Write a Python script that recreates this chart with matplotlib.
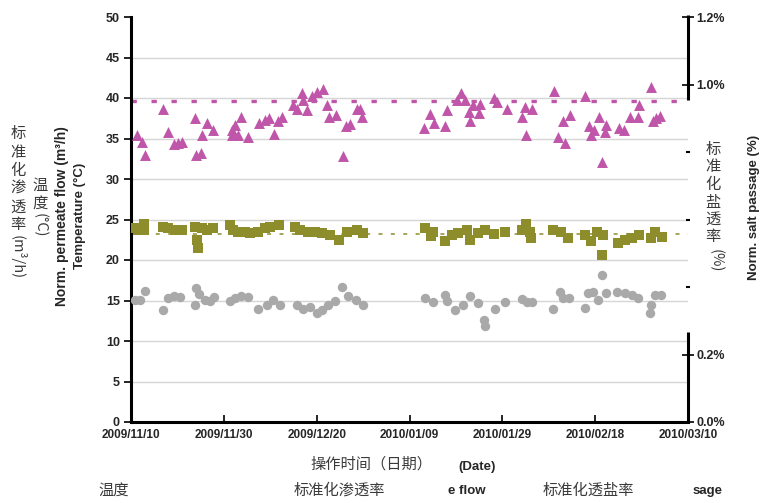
import matplotlib
matplotlib.use("Agg")
import matplotlib.pyplot as plt
from matplotlib.lines import Line2D

# ---------------- data (days since 2009/11/10) ----------------
flow_days = [1.2, 2.4, 3.0, 7.0, 7.9, 9.3, 10.1, 10.9, 13.8, 14.1, 15.1, 15.2, 16.3, 17.7,
             21.7, 22.3, 21.7, 23.1, 23.8, 25.3, 27.6, 28.9, 29.8, 30.9, 31.7, 32.5,
             35.0, 35.8, 36.8, 37.1, 38.0, 38.9, 40.0, 41.3, 42.3, 42.7, 44.2, 45.6,
             46.3, 47.2, 48.6, 49.7, 49.3,
             63.1, 64.4, 65.3, 67.6, 68.0, 70.2, 71.2, 72.0, 73.0, 72.9, 73.7, 75.0, 75.2,
             78.2, 78.9, 80.9, 84.2, 84.9, 85.1, 86.3,
             91.2, 91.9, 93.1, 93.6, 94.6, 97.9, 98.7, 99.2, 99.8, 100.8, 101.5, 102.3,
             102.1, 105.1, 106.3, 107.5, 109.2, 109.4, 112.0, 112.5, 114.0, 113.2]
flow_vals = [35.4, 34.6, 33.0, 38.6, 35.8, 34.3, 34.4, 34.6, 37.5, 33.0, 33.2, 35.4, 36.9, 36.0,
             36.0, 36.7, 35.4, 35.4, 37.6, 35.2, 36.9, 37.3, 37.5, 35.5, 37.1, 37.6,
             39.1, 38.7, 40.6, 39.8, 38.5, 40.2, 40.8, 41.1, 39.1, 37.7, 37.9, 32.9,
             36.6, 36.8, 38.7, 37.7, 38.7,
             36.3, 38.0, 36.9, 36.6, 38.5, 39.8, 40.6, 39.8, 37.1, 38.3, 39.1, 38.1, 39.2,
             40.0, 39.5, 38.7, 37.7, 38.9, 35.4, 38.7,
             40.9, 35.2, 37.1, 34.4, 37.9, 40.2, 36.5, 35.4, 36.0, 37.7, 32.1, 36.7,
             35.8, 36.3, 36.0, 37.7, 37.7, 39.1, 41.3, 37.1, 37.8, 37.5]

temp_days = [1.0, 2.7, 2.7, 1.5, 7.0, 8.0, 9.5, 10.9, 13.8, 14.3, 14.5, 15.2, 16.3, 17.7,
             21.3, 22.0, 23.1, 24.5, 25.6, 27.4, 28.9, 30.0, 31.9,
             35.3, 36.4, 38.2, 39.6, 41.1, 42.9, 44.9, 46.5, 48.6, 50.0,
             63.3, 65.1, 64.7, 67.6, 69.1, 70.5, 72.3, 73.0, 74.8, 76.2, 78.1, 80.6,
             84.2, 85.1, 86.1, 86.0,
             91.0, 92.7, 94.2, 97.8, 99.2, 100.3, 101.6, 101.4, 105.0, 106.4, 107.9, 109.4,
             112.0, 112.8, 114.3]
temp_vals = [23.9, 24.5, 23.7, 23.7, 24.1, 23.9, 23.7, 23.7, 24.1, 22.5, 21.5, 23.9, 23.7, 23.9,
             24.3, 23.7, 23.5, 23.5, 23.3, 23.5, 23.9, 24.1, 24.3,
             24.1, 23.7, 23.5, 23.5, 23.3, 23.1, 22.5, 23.5, 23.7, 23.3,
             23.9, 23.5, 23.0, 22.3, 23.1, 23.3, 23.7, 22.5, 23.3, 23.7, 23.2, 23.5,
             23.7, 24.5, 22.7, 23.5,
             23.7, 23.5, 22.7, 23.1, 22.3, 23.5, 23.1, 20.6, 22.1, 22.5, 22.7, 23.1,
             22.7, 23.5, 22.9]

salt_days = [0.9, 1.9, 3.0, 7.0, 8.0, 9.3, 10.5, 14.0, 13.8, 14.7, 15.9, 17.0, 17.9,
             21.3, 22.5, 23.6, 25.2, 27.4, 29.2, 30.7, 32.1,
             35.7, 37.1, 38.6, 40.0, 41.1, 42.5, 43.9, 45.4, 46.8, 48.4, 49.9,
             63.3, 65.1, 67.6, 68.0, 69.8, 71.6, 73.0, 74.8, 76.0, 76.3, 78.4, 80.6,
             84.2, 85.3, 86.4,
             91.0, 92.4, 93.1, 94.3, 97.8, 98.5, 99.6, 100.7, 101.5, 102.3,
             104.8, 106.4, 108.0, 109.2, 112.0, 111.8, 112.8, 114.1]
salt_vals = [15.1, 15.1, 16.2, 13.8, 15.3, 15.5, 15.4, 16.6, 14.4, 15.8, 15.1, 14.9, 15.4,
             14.9, 15.3, 15.6, 15.4, 14.0, 14.4, 15.1, 14.4,
             14.4, 14.0, 14.2, 13.4, 13.8, 14.4, 14.9, 16.7, 15.5, 15.1, 14.5,
             15.3, 14.8, 15.7, 15.0, 13.8, 14.4, 15.5, 14.7, 12.6, 11.8, 14.0, 14.8,
             15.2, 14.8, 14.8,
             14.0, 16.1, 15.3, 15.3, 14.1, 15.9, 16.0, 15.1, 18.1, 15.9,
             16.1, 15.9, 15.7, 15.3, 14.5, 13.4, 15.7, 15.7]

flow_ref = 39.6
temp_ref = 23.2

x_ticks = [0, 20, 40, 60, 80, 100, 120]
x_labels = ["2009/11/10", "2009/11/30", "2009/12/20", "2010/01/09",
            "2010/01/29", "2010/02/18", "2010/03/10"]
y_ticks = [0, 5, 10, 15, 20, 25, 30, 35, 40, 45, 50]
r_ticks = [0.0, 0.2, 1.0, 1.2]
r_labels = ["0.0%", "0.2%", "1.0%", "1.2%"]
r_minor = [0.4, 0.6, 0.8]

# ---------------- figure ----------------
W, H = 763, 503
fig = plt.figure(figsize=(W / 100, H / 100), dpi=100)
ax = fig.add_axes([131 / W, 81 / H, 557 / W, 405 / H])

EN = ["Liberation Sans", "DejaVu Sans"]
CJK = ["Noto Sans CJK SC", "DejaVu Sans"]
tick_col = "#262626"
cjk_col = "#3a3a3a"

mag = "#C056A9"
olive = "#8D8D2B"
gray = "#A9A9A9"

ax.set_xlim(0, 120)
ax.set_ylim(0, 50)
for yv in y_ticks[1:-1]:
    ax.axhline(yv, color="#D6D6D6", lw=1.0, zorder=0)

ax.plot([0, 120], [flow_ref, flow_ref], color=mag, lw=2.4,
        linestyle=(0, (1.6, 4.4)), solid_capstyle="butt", zorder=1)
ax.plot([0, 120], [temp_ref, temp_ref], color=olive, lw=1.1,
        linestyle=(0, (2.6, 5.5)), zorder=1)

ax.scatter(flow_days, flow_vals, marker="^", s=62, color=mag, linewidths=0, zorder=3)
ax.scatter(temp_days, temp_vals, marker="s", s=56, color=olive, linewidths=0, zorder=3)
ax.scatter(salt_days, salt_vals, marker="o", s=46, color=gray, linewidths=0, zorder=3)

for s in ["top", "right"]:
    ax.spines[s].set_visible(False)
for s in ["left", "bottom"]:
    ax.spines[s].set_linewidth(2.2)
    ax.spines[s].set_color("black")

ax.set_yticks(y_ticks)
ax.set_yticklabels([str(v) for v in y_ticks], fontfamily=EN, fontweight="bold",
                   fontsize=9, color=tick_col)
ax.tick_params(axis="y", direction="out", length=5, width=1.2, pad=3)
ax.set_xticks(x_ticks)
ax.set_xticklabels(x_labels, fontfamily=EN, fontweight="bold", fontsize=8.5, color=tick_col)
ax.tick_params(axis="x", direction="in", length=5, width=1.2, pad=5)

ax2 = ax.twinx()
ax2.set_ylim(0, 1.2)
for s in ["top", "right", "left", "bottom"]:
    ax2.spines[s].set_visible(False)
ax2.set_yticks(r_ticks)
ax2.set_yticklabels(r_labels, fontfamily=EN, fontweight="bold", fontsize=9, color=tick_col)
ax2.set_yticks(r_minor, minor=True)
ax2.tick_params(axis="y", which="major", direction="inout", length=8, width=1.2, pad=2)
ax2.tick_params(axis="y", which="minor", direction="inout", length=2.5, width=1.5)

for y0, y1 in [(0.795, 1.005), (0.0, 0.222)]:
    ax2.add_line(Line2D([1, 1], [y0, y1], transform=ax2.transAxes, color="black",
                        lw=2.2, clip_on=False, solid_capstyle="butt"))

# ---------------- texts ----------------
def fx(px):
    return px / W

def fy(py):
    return 1 - py / H

fig.text(fx(62), fy(216), "Norm. permeate flow (m³/h)", rotation=90, ha="center",
         va="center", fontfamily=EN, fontweight="bold", fontsize=10, color=tick_col)
fig.text(fx(80), fy(216), "Temperature (°C)", rotation=90, ha="center", va="center",
         fontfamily=EN, fontweight="bold", fontsize=9.5, color=tick_col)
fig.text(fx(754), fy(207), "Norm. salt passage (%)", rotation=90, ha="center",
         va="center", fontfamily=EN, fontweight="bold", fontsize=9.5, color=tick_col)

def vstack(chars, x, ys, size=11):
    for c, y in zip(chars, ys):
        fig.text(fx(x), fy(y), c, ha="center", va="center", fontfamily=CJK,
                 fontsize=size, color=cjk_col)

vstack("标准化渗透率", 18, [133, 152, 170, 188, 207, 225])
fig.text(fx(18), fy(235), "(m³/h)", rotation=-90, ha="center", va="top",
         fontfamily=CJK, fontsize=10.5, color=cjk_col)
vstack("温度", 40, [185, 203])
fig.text(fx(40), fy(213), "(°C)", rotation=-90, ha="center", va="top",
         fontfamily=CJK, fontsize=10.5, color=cjk_col)
vstack("标准化盐透率", 713, [149, 167, 184, 202, 219, 237])
fig.text(fx(716), fy(249), "(%)", rotation=-90, ha="center", va="top",
         fontfamily=CJK, fontsize=10.5, color=cjk_col)

fig.text(fx(310), fy(464), "操作时间（日期）", ha="left", va="center", fontfamily=CJK,
         fontsize=11, color=cjk_col)
fig.text(fx(458), fy(467), "(Date)", ha="left", va="center", fontfamily=EN,
         fontweight="bold", fontsize=9.5, color=tick_col)

fig.text(fx(98), fy(490), "温度", ha="left", va="center", fontfamily=CJK,
         fontsize=11, color=cjk_col)
fig.text(fx(294), fy(490), "标准化渗透率", ha="left", va="center", fontfamily=CJK,
         fontsize=11, color=cjk_col)
fig.text(fx(448), fy(491), "e flow", ha="left", va="center", fontfamily=EN,
         fontweight="bold", fontsize=9.5, color=tick_col)
fig.text(fx(543), fy(490), "标准化透盐率", ha="left", va="center", fontfamily=CJK,
         fontsize=11, color=cjk_col)
fig.text(fx(693), fy(491), "sage", ha="left", va="center", fontfamily=EN,
         fontweight="bold", fontsize=9.5, color=tick_col)

fig.savefig("out.png", dpi=100)
